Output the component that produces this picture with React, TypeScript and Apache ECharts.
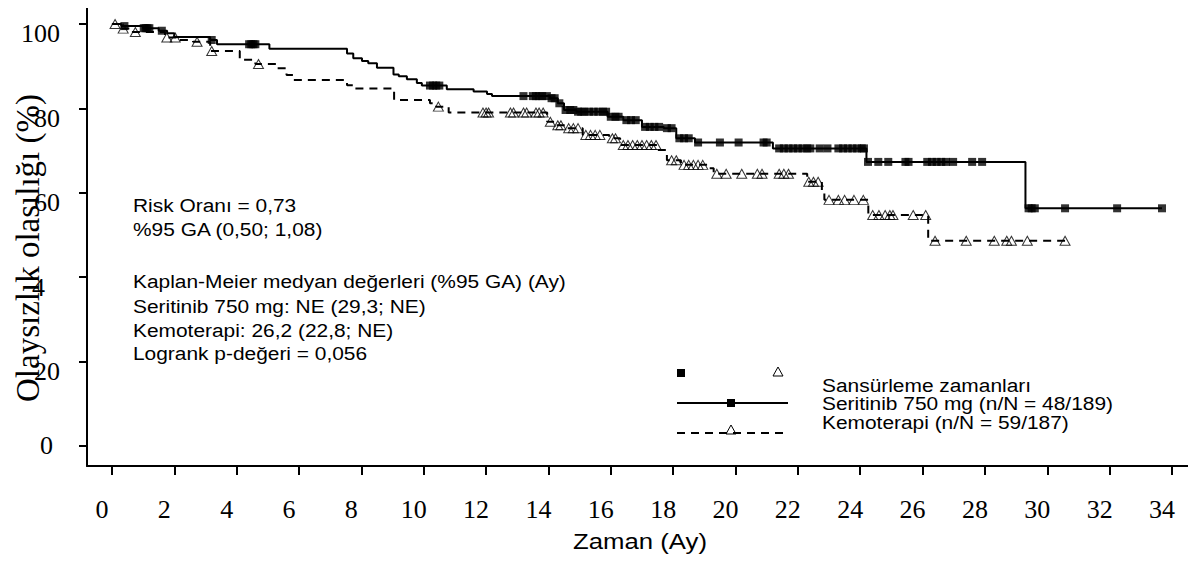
import React, { useEffect, useRef } from 'react';
import * as echarts from 'echarts';

const SERIF = '"Liberation Serif", "Times New Roman", Times, serif';
const SANS = '"Liberation Sans", Arial, Helvetica, sans-serif';

const xTicks = [0, 2, 4, 6, 8, 10, 12, 14, 16, 18, 20, 22, 24, 26, 28, 30, 32, 34];
const yTicks = [0, 20, 40, 60, 80, 100];

const seritinibEventTimes = [0, 0.3, 1.0, 1.5, 1.77, 2.0, 3.15, 3.37, 5.05, 7.54, 7.74, 8.02, 8.22, 8.5, 9.03, 9.2, 9.46, 9.78, 9.94, 10.74, 11.6, 12.03, 12.19, 14.05, 14.3, 14.5, 14.9, 15.9, 16.4, 17.0, 17.7, 18.1, 18.7, 21.2, 24.2, 29.3];
const seritinibSurvival = [100, 99.5, 99.0, 98.4, 97.8, 96.9, 96.2, 95.2, 94.1, 93.0, 91.9, 91.2, 90.7, 89.6, 88.0, 87.6, 86.9, 86.0, 85.4, 84.5, 84.0, 83.4, 82.9, 82.4, 81.2, 79.6, 79.2, 78.0, 77.2, 75.6, 75.3, 72.9, 71.9, 70.5, 67.3, 56.3];
const seritinibLastTime = 33.68;
const seritinibCensorTimes = [0.4, 1.02, 1.08, 1.14, 1.2, 1.6, 3.2, 4.4, 4.47, 4.54, 4.6, 10.2, 10.3, 10.4, 10.5, 13.2, 13.5, 13.6, 13.7, 13.8, 13.95, 14.1, 14.2, 14.35, 14.55, 14.7, 14.8, 14.95, 15.05, 15.15, 15.3, 15.45, 15.6, 15.75, 15.85, 16.0, 16.15, 16.25, 16.5, 16.65, 16.8, 17.1, 17.25, 17.4, 17.55, 17.8, 17.95, 18.2, 18.35, 18.5, 18.8, 19.5, 20.1, 20.9, 21.0, 21.4, 21.55, 21.7, 21.85, 22.0, 22.15, 22.3, 22.4, 22.7, 22.95, 23.3, 23.45, 23.6, 23.75, 23.9, 24.05, 24.12, 24.25, 24.58, 24.9, 25.45, 25.55, 26.15, 26.3, 26.45, 26.6, 26.75, 26.98, 27.59, 27.91, 29.4, 29.5, 29.6, 30.57, 32.24, 33.68];

const kemoEventTimes = [0, 0.3, 0.6, 1.7, 2.15, 2.6, 3.15, 4.1, 4.6, 5.3, 5.6, 5.82, 7.54, 7.74, 9.05, 10.2, 10.4, 10.8, 13.96, 14.2, 14.55, 15.1, 15.95, 16.3, 17.5, 17.8, 18.25, 19.1, 19.3, 22.3, 22.77, 22.85, 24.26, 26.18];
const kemoSurvival = [100, 98.9, 98.1, 96.8, 96.2, 95.8, 93.6, 91.5, 90.5, 89.5, 87.9, 86.7, 85.5, 84.7, 82.0, 81.2, 80.4, 79.0, 76.8, 76.0, 75.3, 73.7, 72.9, 71.3, 70.1, 67.7, 66.6, 65.8, 64.5, 62.6, 60.4, 58.3, 54.7, 48.6];
const kemoLastTime = 30.57;
const kemoCensorTimes = [0.1, 0.36, 0.75, 1.76, 2.03, 2.73, 3.2, 4.7, 10.47, 11.9, 12.0, 12.08, 12.78, 12.88, 13.2, 13.3, 13.6, 13.7, 13.83, 14.06, 14.3, 14.4, 14.65, 14.8, 14.95, 15.2, 15.35, 15.5, 15.65, 16.05, 16.15, 16.4, 16.55, 16.7, 16.85, 17.0, 17.15, 17.3, 17.45, 17.95, 18.1, 18.35, 18.5, 18.65, 18.8, 18.95, 19.4, 19.7, 20.2, 20.7, 20.85, 21.4, 21.55, 21.7, 22.35, 22.5, 22.65, 23.0, 23.3, 23.5, 23.8, 24.1, 24.4, 24.6, 24.8, 24.95, 25.05, 25.7, 26.1, 26.4, 27.4, 28.3, 28.7, 28.85, 29.36, 30.57];

const annotationLines = [
  'Risk Oranı = 0,73',
  '%95 GA (0,50; 1,08)',
  'Kaplan-Meier medyan değerleri (%95 GA) (Ay)',
  'Seritinib 750 mg: NE (29,3; NE)',
  'Kemoterapi: 26,2 (22,8; NE)',
  'Logrank p-değeri = 0,056',
];
const legendLabels = [
  'Sansürleme zamanları',
  'Seritinib 750 mg (n/N = 48/189)',
  'Kemoterapi (n/N = 59/187)',
];
const yAxisTitle = 'Olaysızlık olasılığı (%)';
const xAxisTitle = 'Zaman (Ay)';

function survivalAt(times: number[], surv: number[], t: number): number {
  let v = surv[0];
  for (let i = 0; i < times.length; i++) {
    if (times[i] <= t) v = surv[i];
  }
  return v;
}

function curve(times: number[], surv: number[], last: number): number[][] {
  const pts = times.map((t, i) => [t, surv[i]]);
  pts.push([last, surv[surv.length - 1]]);
  return pts;
}

const X_MIN = -0.8;
const X_MAX = 34.77;

export default function App() {
  const ref = useRef<HTMLDivElement>(null);

  useEffect(() => {
    if (!ref.current) return;
    const chart = echarts.init(ref.current, undefined, { renderer: 'svg' });

    const annY = [205, 229, 281, 306, 330, 353];
    const legY = [385, 403.5, 422];

    const graphics: any[] = [];
    annotationLines.forEach((t, i) => {
      graphics.push({
        type: 'text', x: 133, y: annY[i], scaleX: 1.1,
        style: { text: t, font: `19px ${SANS}`, fill: '#000', verticalAlign: 'middle' },
      });
    });
    legendLabels.forEach((t, i) => {
      graphics.push({
        type: 'text', x: 822, y: legY[i], scaleX: 1.1,
        style: { text: t, font: `19px ${SANS}`, fill: '#000', verticalAlign: 'middle' },
      });
    });
    graphics.push({ type: 'rect', shape: { x: 677, y: 369, width: 8, height: 8 }, style: { fill: '#000' } });
    graphics.push({ type: 'polygon', shape: { points: [[773, 376], [783, 376], [778, 367]] }, style: { fill: 'none', stroke: '#000', lineWidth: 1 } });
    graphics.push({ type: 'line', shape: { x1: 677, y1: 403, x2: 788, y2: 403 }, style: { stroke: '#000', lineWidth: 2 } });
    graphics.push({ type: 'rect', shape: { x: 727, y: 399, width: 8, height: 8 }, style: { fill: '#000' } });
    graphics.push({ type: 'line', shape: { x1: 677, y1: 433, x2: 788, y2: 433 }, style: { stroke: '#000', lineWidth: 2, lineDash: [8, 6] } });
    graphics.push({ type: 'polygon', shape: { points: [[726, 434], [736, 434], [731, 425]] }, style: { fill: 'none', stroke: '#000', lineWidth: 1 } });
    graphics.push({
      type: 'text', x: 28, y: 248, rotation: Math.PI / 2,
      style: { text: yAxisTitle, font: `33px ${SERIF}`, fill: '#000', align: 'center', verticalAlign: 'middle' },
    });
    graphics.push({
      type: 'text', x: 640, y: 541, scaleX: 1.17,
      style: { text: xAxisTitle, font: `22px ${SANS}`, fill: '#000', align: 'center', verticalAlign: 'middle' },
    });

    const serCensor = seritinibCensorTimes.map((t) => [t, survivalAt(seritinibEventTimes, seritinibSurvival, t)]);
    const kemoCensor = kemoCensorTimes.map((t) => [t, survivalAt(kemoEventTimes, kemoSurvival, t)]);

    chart.setOption({
      animation: false,
      grid: { left: 87, top: 5, right: 0, height: 461, outerBoundsMode: 'none', containLabel: false },
      xAxis: [
        {
          type: 'value', min: X_MIN, max: X_MAX,
          axisLine: { onZero: false, lineStyle: { color: '#000', width: 2 } },
          axisTick: { customValues: xTicks, length: 9, lineStyle: { color: '#000', width: 2 } },
          axisLabel: { customValues: xTicks, fontFamily: SERIF, fontSize: 26, color: '#000', margin: 30, padding: [0, 20, 0, 0] },
          splitLine: { show: false },
        },
        {
          type: 'value', position: 'top', min: X_MIN, max: X_MAX,
          axisLine: { onZero: false, lineStyle: { color: '#000', width: 2 } },
          axisTick: { show: false }, axisLabel: { show: false }, splitLine: { show: false },
        },
      ],
      yAxis: {
        type: 'value', min: -4.8, max: 104.5,
        axisLine: { onZero: false, lineStyle: { color: '#000', width: 2 } },
        axisTick: { customValues: yTicks, length: 8, lineStyle: { color: '#000', width: 2 } },
        axisLabel: {
          customValues: yTicks, margin: 27, color: '#000', fontFamily: SERIF, fontSize: 26,
          formatter: (v: number) => (v === 0 ? '{z|0}' : v === 40 ? '{f|4}' : `{d|${v}}`),
          rich: {
            d: { fontFamily: SERIF, fontSize: 26, color: '#000', padding: [20, 0, 0, 0] },
            f: { fontFamily: SERIF, fontSize: 26, color: '#000', padding: [20, 15, 0, 0] },
            z: { fontFamily: SERIF, fontSize: 26, color: '#000', padding: [0, 7, 0, 0] },
          },
        },
        splitLine: { show: false },
      },
      graphic: graphics,
      series: [
        {
          name: 'Seritinib 750 mg', type: 'line', step: 'end', showSymbol: false, symbol: 'none',
          data: curve(seritinibEventTimes, seritinibSurvival, seritinibLastTime),
          lineStyle: { color: '#000', width: 2 }, z: 2,
        },
        {
          name: 'Kemoterapi', type: 'line', step: 'end', showSymbol: false, symbol: 'none',
          data: curve(kemoEventTimes, kemoSurvival, kemoLastTime),
          lineStyle: { color: '#000', width: 2, type: [8, 6] }, z: 2,
        },
        {
          name: 'Seritinib sansür', type: 'scatter', symbol: 'rect', symbolSize: 8,
          data: serCensor, itemStyle: { color: '#000' }, z: 3,
        },
        {
          name: 'Kemoterapi sansür', type: 'scatter', symbol: 'triangle', symbolSize: [10, 9],
          data: kemoCensor, itemStyle: { color: 'rgba(0,0,0,0)', borderColor: '#000', borderWidth: 1 }, z: 3,
        },
      ],
    });

    return () => chart.dispose();
  }, []);

  return <div ref={ref} style={{ width: 1196, height: 562, margin: -8 }} />;
}
